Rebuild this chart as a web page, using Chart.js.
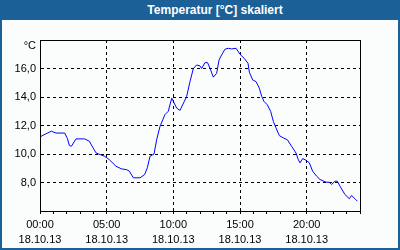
<!DOCTYPE html>
<html>
<head>
<meta charset="utf-8">
<script src="https://cdn.jsdelivr.net/npm/chart.js@4"></script>
<style>
  html, body { margin: 0; padding: 0; background: #fbfdfd; }
  #frame {
    width: 400px; height: 250px; box-sizing: border-box;
    border: 2px solid #1b6097; border-top: none; background: #fbfdfd;
  }
  #head {
    height: 20px; margin: 0 -2px; background: #1b6097; color: #fff;
    font: bold 12px "Liberation Sans", Arial, sans-serif; line-height: 20px;
    text-align: center; padding-left: 30px;
  }
  #wrap { position: relative; width: 396px; height: 228px; }
</style>
</head>
<body>
<div id="frame">
  <div id="head">Temperatur [°C] skaliert</div>
  <div id="wrap"><canvas id="chart"></canvas></div>
</div>
<script>
// Stunden seit 00:00 am 18.10.13
const HOURS = [0, 0.3, 0.85, 1.2, 1.85, 2.05, 2.2, 2.35, 2.7, 3.35, 3.7, 3.98, 4.2, 4.5, 4.85,
  5.2, 5.7, 6.1, 6.5, 6.7, 7.0, 7.5, 7.85, 8.05, 8.25, 8.55, 8.75, 9.0, 9.37, 9.62, 9.88,
  10.25, 10.5, 11.0, 11.25, 11.5, 11.75, 12.0, 12.12, 12.37, 12.57, 12.8, 13.0, 13.25, 13.43,
  13.62, 13.87, 14.12, 14.37, 14.7, 15.0, 15.3, 15.6, 15.7, 15.95, 16.2, 16.45, 16.63, 16.8,
  17.05, 17.3, 17.5, 17.7, 17.95, 18.25, 18.55, 18.87, 19.2, 19.37, 19.5, 19.7, 19.95, 20.2,
  20.45, 20.75, 21.0, 21.45, 21.7, 21.87, 22.12, 22.3, 22.5, 22.87, 23.2, 23.37, 23.62, 23.8];
const TEMPS = [11.2, 11.35, 11.6, 11.47, 11.47, 11.1, 10.6, 10.54, 11.06, 11.06, 10.9, 10.43, 10.08, 9.96, 9.84,
  9.6, 9.14, 8.96, 8.9, 8.8, 8.33, 8.33, 8.56, 9.03, 9.84, 10.0, 11.0, 11.94, 12.76, 13.0, 13.92,
  13.22, 13.06, 14.04, 15.08, 16.0, 16.25, 16.18, 16.0, 16.41, 16.41, 15.9, 15.39, 15.67, 16.6,
  16.95, 17.35, 17.42, 17.37, 17.42, 17.0, 16.72, 16.37, 15.75, 15.2, 15.08, 14.62, 14.04, 13.69,
  13.45, 12.99, 12.29, 11.83, 11.29, 11.13, 11.0, 10.54, 10.07, 9.61, 9.38, 9.68, 9.56, 9.38,
  8.79, 8.44, 8.21, 8.02, 8.02, 7.86, 8.09, 8.09, 7.74, 7.16, 6.86, 7.09, 6.86, 6.69];
const X_LABELS = ['00:00', '05:00', '10:00', '15:00', '20:00'];
const DATE_LABEL = '18.10.13';
const Y_TICKS = [8, 10, 12, 14, 16];
const UNIT = '°C';

const FONT = { family: '"Liberation Sans", Arial, sans-serif', size: 11 };

// Rahmen ums Diagramm + Einheit oben links
const frameBox = {
  id: 'frameBox',
  afterDraw(chart) {
    const { ctx, chartArea: a } = chart;
    ctx.save();
    ctx.strokeStyle = '#000';
    ctx.lineWidth = 1;
    ctx.strokeRect(Math.round(a.left) + 0.5, Math.round(a.top) + 0.5,
      Math.round(a.right - a.left), Math.round(a.bottom - a.top));
    ctx.fillStyle = '#000';
    ctx.font = '11px ' + FONT.family;
    ctx.textAlign = 'right';
    ctx.textBaseline = 'middle';
    ctx.fillText(UNIT, a.left - 4, a.top + 6);
    ctx.restore();
  }
};

new Chart(document.getElementById('chart'), {
  type: 'line',
  data: {
    datasets: [{
      data: HOURS.map((h, i) => ({ x: h, y: TEMPS[i] })),
      borderColor: '#0000ff',
      borderWidth: 1,
      pointRadius: 0,
      tension: 0,
      fill: false,
    }],
  },
  options: {
    responsive: true,
    maintainAspectRatio: false,
    animation: false,
    layout: { padding: { top: 20, right: 38, left: 0, bottom: 0 } },
    plugins: { legend: { display: false }, tooltip: { enabled: false } },
    scales: {
      x: {
        type: 'linear',
        min: 0, max: 24,
        afterFit: s => { s.height = 37; },
        ticks: {
          stepSize: 1, autoSkip: false, maxRotation: 0, padding: 3,
          color: '#000', font: { ...FONT, lineHeight: '15px' },
          callback: v => (v % 5 === 0 && v / 5 < X_LABELS.length) ? [X_LABELS[v / 5], DATE_LABEL] : '',
        },
        grid: {
          color: c => (c.tick && c.tick.value % 5 === 0) ? '#000' : 'rgba(0,0,0,0)',
          tickColor: '#000', tickLength: 3, lineWidth: 1,
        },
        border: { display: true, color: '#000', dash: [3, 3] },
      },
      y: {
        min: 6, max: 18,
        afterFit: s => { s.width = 38; },
        ticks: {
          stepSize: 2, padding: 4, color: '#000', font: FONT,
          callback: v => Y_TICKS.includes(v) ? v.toFixed(1).replace('.', ',') : '',
        },
        grid: { color: '#000', drawTicks: false, lineWidth: 1 },
        border: { display: true, color: '#000', dash: [3, 3] },
      },
    },
  },
  plugins: [frameBox],
});
</script>
</body>
</html>
